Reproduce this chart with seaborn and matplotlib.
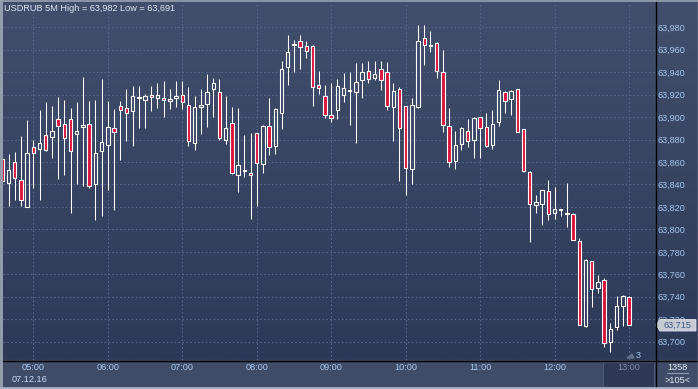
import numpy as np
import pandas as pd
import matplotlib
matplotlib.use("Agg")
import matplotlib.pyplot as plt
import seaborn as sns
from matplotlib.colors import LinearSegmentedColormap
from matplotlib.patches import Rectangle, Polygon

# USDRUB 5 minute candles, 07.12.16 04:35 - 13:00
open_ = [63.863, 63.841, 63.860, 63.844, 63.820, 63.873, 63.872, 63.884, 63.882, 63.898,
         63.894, 63.898, 63.885, 63.891, 63.894, 63.840, 63.870, 63.875, 63.890, 63.910,
         63.908, 63.905, 63.917, 63.915, 63.920, 63.917, 63.917, 63.914, 63.917, 63.920,
         63.911, 63.877, 63.909, 63.912, 63.925, 63.922, 63.880, 63.895, 63.848, 63.852,
         63.850, 63.886, 63.858, 63.892, 63.874, 63.904, 63.945, 63.964, 63.968, 63.963,
         63.963, 63.929, 63.919, 63.902, 63.906, 63.920, 63.923, 63.922, 63.933, 63.941,
         63.935, 63.943, 63.940, 63.909, 63.925, 63.910, 63.854, 63.909, 63.970, 63.963,
         63.966, 63.940, 63.892, 63.861, 63.876, 63.888, 63.880, 63.900, 63.891, 63.875,
         63.896, 63.922, 63.916, 63.925, 63.889, 63.851, 63.822, 63.823, 63.834, 63.815,
         63.817, 63.814, 63.814, 63.790, 63.714, 63.772, 63.748, 63.755, 63.700, 63.713,
         63.732, 63.740]
high = [63.866, 63.867, 63.869, 63.883, 63.897, 63.880, 63.906, 63.913, 63.910, 63.918,
        63.915, 63.908, 63.913, 63.936, 63.914, 63.915, 63.934, 63.914, 63.907, 63.914,
        63.925, 63.928, 63.928, 63.921, 63.928, 63.930, 63.932, 63.925, 63.932, 63.932,
        63.927, 63.919, 63.925, 63.938, 63.935, 63.934, 63.919, 63.909, 63.908, 63.884,
        63.886, 63.886, 63.893, 63.917, 63.908, 63.950, 63.973, 63.969, 63.973, 63.968,
        63.964, 63.941, 63.929, 63.930, 63.934, 63.939, 63.940, 63.948, 63.948, 63.950,
        63.950, 63.950, 63.949, 63.930, 63.927, 63.910, 63.917, 63.982, 63.982, 63.977,
        63.967, 63.960, 63.908, 63.888, 63.891, 63.898, 63.900, 63.900, 63.904, 63.906,
        63.933, 63.923, 63.924, 63.925, 63.889, 63.852, 63.831, 63.835, 63.844, 63.838,
        63.818, 63.841, 63.815, 63.792, 63.774, 63.772, 63.759, 63.757, 63.717, 63.741,
        63.742, 63.741]
low = [63.841, 63.821, 63.826, 63.821, 63.820, 63.837, 63.826, 63.870, 63.864, 63.845,
       63.848, 63.815, 63.840, 63.839, 63.837, 63.808, 63.812, 63.835, 63.817, 63.862,
       63.879, 63.874, 63.890, 63.890, 63.905, 63.908, 63.900, 63.907, 63.909, 63.907,
       63.874, 63.871, 63.885, 63.891, 63.900, 63.880, 63.876, 63.849, 63.833, 63.847,
       63.809, 63.821, 63.850, 63.866, 63.867, 63.889, 63.929, 63.940, 63.943, 63.953,
       63.910, 63.921, 63.899, 63.896, 63.898, 63.913, 63.893, 63.877, 63.917, 63.930,
       63.933, 63.924, 63.906, 63.879, 63.843, 63.831, 63.840, 63.908, 63.946, 63.958,
       63.935, 63.887, 63.856, 63.854, 63.871, 63.873, 63.864, 63.864, 63.873, 63.872,
       63.892, 63.904, 63.902, 63.887, 63.851, 63.789, 63.815, 63.804, 63.808, 63.809,
       63.812, 63.802, 63.791, 63.715, 63.713, 63.731, 63.743, 63.695, 63.691, 63.710,
       63.714, 63.715]
close = [63.843, 63.853, 63.846, 63.826, 63.868, 63.868, 63.877, 63.871, 63.888, 63.892,
         63.881, 63.870, 63.888, 63.893, 63.839, 63.868, 63.878, 63.891, 63.887, 63.906,
         63.904, 63.919, 63.918, 63.919, 63.918, 63.920, 63.915, 63.916, 63.919, 63.913,
         63.879, 63.909, 63.911, 63.922, 63.930, 63.881, 63.890, 63.850, 63.857, 63.853,
         63.848, 63.859, 63.892, 63.873, 63.907, 63.943, 63.958, 63.965, 63.962, 63.959,
         63.927, 63.926, 63.902, 63.899, 63.928, 63.926, 63.924, 63.931, 63.940, 63.934,
         63.938, 63.933, 63.910, 63.923, 63.890, 63.855, 63.911, 63.968, 63.964, 63.964,
         63.941, 63.893, 63.860, 63.875, 63.890, 63.879, 63.899, 63.890, 63.874, 63.894,
         63.924, 63.914, 63.923, 63.887, 63.852, 63.823, 63.824, 63.835, 63.814, 63.818,
         63.818, 63.815, 63.791, 63.715, 63.773, 63.747, 63.753, 63.699, 63.711, 63.732,
         63.741, 63.715]

times = pd.date_range("2016-12-07 04:35", periods=len(open_), freq="5min")
df = pd.DataFrame({"time": times, "open": open_, "high": high, "low": low, "close": close})
df["x"] = np.arange(len(df))
df["up"] = df["close"] >= df["open"]
df["body_lo"] = df[["open", "close"]].min(axis=1)
df["body_hi"] = df[["open", "close"]].max(axis=1)

yticks = np.round(np.arange(63.700, 63.981, 0.020), 3)
hour_pos = df.loc[df["time"].dt.minute == 0, "x"].tolist()
hour_lab = df.loc[df["time"].dt.minute == 0, "time"].dt.strftime("%H:%M").tolist()

sns.set_style("dark")
plt.rcParams["font.family"] = ["Liberation Sans", "DejaVu Sans"]

W, H = 698, 389
fs = 6.6
fig = plt.figure(figsize=(W / 100, H / 100), dpi=100)
fig.patch.set_facecolor("#3e4b68")

# background panel (pixel coordinates)
bg = fig.add_axes([0, 0, 1, 1])
bg.set_xlim(0, W)
bg.set_ylim(H, 0)
bg.axis("off")
cmap = LinearSegmentedColormap.from_list("bg", ["#414f6d", "#2c3957"])
bg.imshow(np.linspace(0, 1, 256).reshape(-1, 1), cmap=cmap, extent=[0, W, 360, 0], aspect="auto")
bg.add_patch(Rectangle((0, 360), W, 29, color="#3f4c68"))
bg.add_patch(Rectangle((603, 362), 51, 25, facecolor="#2e3a55", edgecolor="#4d5a76", lw=0.8))

# main chart axes
ax = fig.add_axes([3 / W, 29 / H, 652 / W, 357 / H])
ax.patch.set_alpha(0)
for s in ax.spines.values():
    s.set_visible(False)

ax.vlines(df["x"], df["low"], df["body_lo"], color="white", lw=0.75, zorder=2)
ax.vlines(df["x"], df["body_hi"], df["high"], color="white", lw=0.75, zorder=2)
ax.bar(df["x"], df["body_hi"] - df["body_lo"], bottom=df["body_lo"], width=0.55,
       color=np.where(df["up"], "none", "#dc143c"), edgecolor="white", linewidth=0.8, zorder=3)

ax.set_xlim(0.11, 105.19)
ax.set_ylim(63.6837, 64.0016)
ax.set_yticks(yticks)
ax.set_yticklabels([f"{v:.3f}".replace(".", ",") for v in yticks])
ax.yaxis.tick_right()
ax.set_xticks(hour_pos)
ax.set_xticklabels(hour_lab)
ax.tick_params(axis="y", length=0, pad=1.8, labelsize=fs, labelcolor="#a6c6ee")
ax.tick_params(axis="x", length=0, pad=2.5, labelsize=fs, labelcolor="#a6c6ee")
ax.get_xticklabels()[-1].set_color("#7d8aa3")
ax.grid(True, color="#56658a", linestyle=(0, (1.5, 2)), linewidth=0.8)

# overlay: frame lines, texts, price marker
ov = fig.add_axes([0, 0, 1, 1])
ov.set_xlim(0, W)
ov.set_ylim(H, 0)
ov.axis("off")
ov.patch.set_alpha(0)
ov.plot([655.5, 655.5], [0, 389], color="black", lw=1)
ov.plot([0, W], [360.5, 360.5], color="black", lw=1)
ov.plot([0, W], [0.5, 0.5], color="#9aa3b3", lw=1.2)
ov.plot([1, 1], [0, H], color="#9aa3b3", lw=2)
ov.plot([0, W], [388, 388], color="#a8b2c4", lw=2)
ov.plot([697.5, 697.5], [0, H], color="#9aa3b3", lw=1)

ov.text(4, 8.5, "USDRUB 5M High = 63,982 Low = 63,691", color="#dfe6ee", fontsize=fs,
        va="center", ha="left")
ov.text(30, 379.5, "07.12.16", color="#c8d8ee", fontsize=fs, va="center", ha="center")
ov.text(677.5, 367.5, "1358", color="#e4eaf2", fontsize=fs, va="center", ha="center")
ov.plot([667, 688], [373, 373], color="#8e9ab0", lw=0.8)
ov.text(677.5, 380.5, ">105<", color="#e4eaf2", fontsize=fs, va="center", ha="center")
ov.text(638.5, 355, "3", color="#a6c6ee", fontsize=fs, va="center", ha="center")
ov.add_patch(Polygon([[627, 358], [632, 354], [634, 358]], closed=True, color="#66708a"))

ov.add_patch(Polygon([[656, 325], [660, 319.5], [696, 319.5], [696, 331], [660, 331]],
                     closed=True, facecolor="#c5cad3", edgecolor="#e0e4ea", lw=0.6))
ov.text(677, 325.3, "63,715", color="#3e5a86", fontsize=fs, va="center", ha="center")

fig.savefig("out.png", dpi=100)
